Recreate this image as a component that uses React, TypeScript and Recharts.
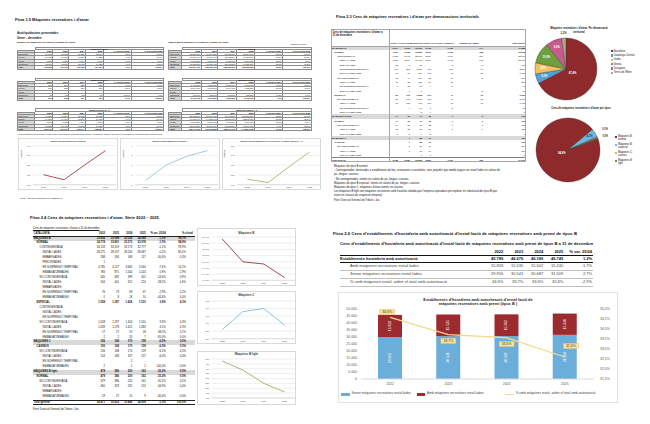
import React from 'react';
import {
  LineChart,
  Line,
  XAxis,
  YAxis,
  CartesianGrid,
  PieChart,
  Pie,
  Cell,
  ComposedChart,
  Bar,
  LabelList,
} from 'recharts';

const FONT = '"Liberation Sans", Arial, Helvetica, sans-serif';

const YEARS = ['2022', '2023', '2024', '2025'];
const PROVINCES = ['Barcelona', 'Girona', 'Lleida', 'Tarragona'];

// Fitxa 1.5 - autoliquidacions: nombre de màquines (per província, 2022-2025)
const nombreB = [
  [96961, 95935, 95020, 98617],
  [13925, 13751, 13590, 14258],
  [7876, 7750, 7614, 7917],
  [13790, 13680, 13496, 14125],
];
const nombreC = [
  [272, 279, 288, 291],
  [276, 280, 284, 290],
  [0, 0, 0, 0],
  [48, 56, 52, 26],
];
// import quota (euros)
const importB = [
  [80581560, 76844590, 87955310, 98734930],
  [11573640, 11036440, 12633800, 14182170],
  [6503850, 6201990, 7098990, 7969030],
  [11575650, 11035430, 12633800, 14182170],
];
const importC = [
  [2470500, 3180200, 3655900, 4075300],
  [2504300, 3195600, 3604100, 4058200],
  [0, 0, 0, 0],
  [437600, 638000, 661500, 365200],
];
const QUOTA_HEAD = ['Categoria', '2022', '2023', '2024', '2025', '% variació 25/24', '% pes s/total 2025'];
const QUOTA_B_TICKS = [100, 110, 120, 130, 140];
const QUOTA_C_TICKS = [5, 6, 7, 8, 9];
const QUOTA_BC_TICKS = [110, 120, 130, 140, 150];

// Fitxa 2.3 - cens per demarcacions
const CENS_COLS = ['LLEIDA', 'TARRAGONA', 'BARCELONA', 'GIRONA', 'CATALUNYA CENTRAL', "TERRES DE L'EBRE", 'Total general'];
const censLabels = [
  'MÀQUINES B', 'NORMAL', 'CONTINGENTADA', 'INSTAL·LADES', 'EMBARGADES', 'EN SUSPENSIÓ TEMPORAL', 'EMMAGATZEMADES',
  'NO CONTINGENTADA', 'INSTAL·LADES', 'EN SUSPENSIÓ TEMPORAL', 'EMMAGATZEMADES',
  'ESPECIAL', 'NO CONTINGENTADA', 'INSTAL·LADES', 'EN SUSPENSIÓ TEMPORAL', 'EMMAGATZEMADES',
  'MÀQUINES B light', 'NORMAL', 'NO CONTINGENTADA', 'INSTAL·LADES', 'EMMAGATZEMADES',
  'MÀQUINES C', 'CASINOS', 'NO CONTINGENTADA', 'INSTAL·LADES', 'EMMAGATZEMADES',
  'Total general',
];
const censLevels = [0, 1, 2, 3, 3, 3, 3, 2, 3, 3, 3, 1, 2, 3, 3, 3, 0, 1, 2, 3, 3, 0, 1, 2, 3, 3, -1];
const censValues = [
  [2024, 2962, 23360, 3718, 1750, 774],
  [1937, 2786, 22352, 3542, 1703, 758],
  [1925, 2742, 22161, 3509, 1684, 756],
  [1629, 2284, 19092, 2964, 1475, 643],
  [31, 6, 75, 0, 3, 2],
  [167, 371, 2370, 402, 160, 90],
  [98, 81, 624, 143, 46, 21],
  [12, 44, 191, 33, 19, 2],
  [11, 23, 155, 24, 11, 0],
  [1, 20, 29, 9, 8, 0],
  [0, 1, 7, 0, 0, 2],
  [87, 176, 1008, 176, 47, 16],
  [87, 176, 1008, 176, 47, 16],
  [87, 172, 995, 170, 45, 16],
  [0, 4, 10, 2, 2, 0],
  [0, 0, 3, 4, 0, 0],
  [14, 26, 77, 32, 7, 6],
  [14, 26, 77, 32, 7, 6],
  [14, 26, 77, 32, 7, 6],
  [13, 25, 73, 29, 7, 6],
  [1, 1, 4, 3, 0, 0],
  [0, 1, 88, 70, 0, 0],
  [0, 1, 88, 70, 0, 0],
  [0, 1, 88, 70, 0, 0],
  [0, 1, 87, 69, 0, 0],
  [0, 0, 1, 1, 0, 0],
  [2038, 2989, 23525, 3820, 1757, 780],
];
const CENS_NOTES = [
  'Màquines de tipus B normal:',
  '- Contingentades: destinades a establiments de bar, restaurants o assimilats, sens perjudici que també puguin ser instal·lades en salons de',
  'joc, bingos i casinos.',
  '- No contingentades: només en salons de joc, bingos i casinos.',
  'Màquines de tipus B especial: només en salons de joc, bingos i casinos.',
  "Màquines de tipus C: màquines d'atzar només en casinos.",
  "Les màquines B light són màquines recreatives amb fiscalitat reduïda que l'empresa operadora pot explotar en substitució de tipus B que",
  'estan en situació de suspensió temporal.',
  'Font: Direcció General de Tributs i Joc',
];
const DEMARCACIONS = ['Barcelona', 'Catalunya Central', 'Lleida', 'Girona', 'Tarragona', "Terres de l'Ebre"];
const DEMARCACIO_COL = [2, 4, 0, 3, 1, 5];
const DEMARCACIO_COLORS = ['#8f2a2c', '#4fa3d6', '#f0c160', '#6f9e3c', '#c65b8e', '#b7a68a'];
const TIPUS = ['Màquines B: normal', 'Màquines B: especial', 'Màquines C: casinos', 'Màquines B: light'];
const TIPUS_ROW = [1, 11, 21, 16];
const TIPUS_COLORS = ['#8f2a2c', '#6db6e4', '#cdb56c', '#7b8b58'];

// Fitxa 2.4 - sèrie 2022-2025
const serieLabels = [
  'MÀQUINES B', 'NORMAL', 'CONTINGENTADA', 'INSTAL·LADES', 'EMBARGADES', 'PRECINTADES', 'EN SUSPENSIÓ TEMPORAL', 'EMMAGATZEMADES',
  'NO CONTINGENTADA', 'INSTAL·LADES', 'EMBARGADES', 'EN SUSPENSIÓ TEMPORAL', 'EMMAGATZEMADES',
  'ESPECIAL', 'CONTINGENTADA', 'INSTAL·LADES', 'EN SUSPENSIÓ TEMPORAL',
  'NO CONTINGENTADA', 'INSTAL·LADES', 'EN SUSPENSIÓ TEMPORAL', 'EMMAGATZEMADES',
  'MÀQUINES C', 'CASINOS', 'NO CONTINGENTADA', 'INSTAL·LADES', 'EN SUSPENSIÓ TEMPORAL', 'EMMAGATZEMADES',
  'MÀQUINES B light', 'NORMAL', 'NO CONTINGENTADA', 'INSTAL·LADES', 'EMBARGADES', 'EMMAGATZEMADES',
  'Total general',
];
const serieLevels = [0, 1, 2, 3, 3, 3, 3, 3, 2, 3, 3, 3, 3, 1, 2, 3, 3, 2, 3, 3, 3, 0, 1, 2, 3, 3, 3, 0, 1, 2, 3, 3, 3, -1];
const serieValues = [
  [35836, 35098, 35026, 34588],
  [34778, 33801, 33572, 33078],
  [34133, 33319, 33173, 32777],
  [28275, 28137, 28156, 28087],
  [288, 184, 168, 117],
  [1, 0, 0, 0],
  [4785, 4127, 3845, 3560],
  [784, 871, 1004, 1013],
  [645, 482, 399, 301],
  [564, 401, 312, 224],
  [0, 0, 0, 0],
  [76, 73, 69, 67],
  [5, 8, 18, 10],
  [1058, 1297, 1454, 1510],
  [0, 0, 0, 0],
  [0, 0, 0, 0],
  [0, 0, 0, 0],
  [1058, 1297, 1454, 1510],
  [1039, 1278, 1421, 1485],
  [17, 17, 13, 18],
  [2, 2, 20, 7],
  [156, 168, 170, 159],
  [156, 168, 170, 159],
  [156, 168, 170, 159],
  [154, 168, 167, 157],
  [0, 0, 2, 0],
  [2, 0, 1, 2],
  [479, 386, 250, 162],
  [479, 386, 250, 162],
  [479, 386, 250, 162],
  [460, 359, 235, 153],
  [0, 0, 0, 0],
  [19, 27, 15, 9],
  [36471, 35652, 35446, 34909],
];
const SERIE_B_TICKS = [34500, 34700, 34900, 35100, 35300, 35500, 35700, 35900];
const SERIE_C_TICKS = [150, 155, 160, 165, 170, 175];
const SERIE_BL_TICKS = [100, 150, 200, 250, 300, 350, 400, 450, 500];

// Fitxa 2.6 - hostaleria
const ambMaquines = [15833, 15535, 15502, 15240];
const senseMaquines = [29956, 30541, 30687, 31509];
const HOST_LEFT_TICKS = [0, 5000, 10000, 15000, 20000, 25000, 30000, 35000, 40000, 45000, 50000];
const HOST_RIGHT_TICKS = [31.5, 32, 32.5, 33, 33.5, 34, 34.5, 35];

const group = (n: number) => {
  const s = String(Math.round(Math.abs(n))).replace(/\B(?=(\d{3})+(?!\d))/g, '.');
  return (n < 0 ? '-' : '') + s;
};
const num = (n: number) => (n ? group(n) : '');
const pct = (v: number) => v.toFixed(1).replace('.', ',') + '%';
const sumCols = (src: number[][]) => YEARS.map((_, i) => src.reduce((a, r) => a + r[i], 0));
const sumRows = (a: number[][], b: number[][]) => a.map((r, k) => r.map((v, i) => v + b[k][i]));

function quotaRows(src: number[][]) {
  const tot = sumCols(src);
  const line = (name: string, v: number[]) => [
    name,
    ...v.map(num),
    v[2] ? pct((v[3] / v[2] - 1) * 100) : '',
    v[3] ? pct((v[3] / tot[3]) * 100) : '',
  ];
  return [...src.map((r, k) => line(PROVINCES[k], r)), line('Total', tot)];
}
const millions = (src: number[][]) => sumCols(src).map((v, i) => ({ year: YEARS[i], v: v / 1e6 }));

function Tx({ x, y, s, b, c, w, a, children }: { x: number; y: number; s: number; b?: boolean; c?: string; w?: number; a?: 'left' | 'center' | 'right'; children: React.ReactNode }) {
  return (
    <div
      style={{
        position: 'absolute',
        left: x,
        top: y - s * 0.6,
        width: w,
        textAlign: a,
        fontSize: s,
        lineHeight: `${s * 1.2}px`,
        fontWeight: b ? 700 : 400,
        color: c || '#111',
        whiteSpace: 'nowrap',
      }}
    >
      {children}
    </div>
  );
}

const lefts = (widths: number[]) => {
  let acc = 0;
  return widths.map((w) => {
    const l = acc;
    acc += w;
    return l;
  });
};
const total = (a: number[]) => a.reduce((s, v) => s + v, 0);

function QuotaBlock({ x, y, widths, title, rows }: { x: number; y: number; widths: number[]; title: string; rows: string[][] }) {
  const rh = 3.29;
  const line = '1px solid #8c8c8c';
  const ls = lefts(widths);
  const W = total(widths);
  const all = [QUOTA_HEAD, ...rows];
  return (
    <div style={{ position: 'absolute', left: x, top: y, width: W, height: rh * 7, fontSize: 2.1, lineHeight: `${rh - 1}px` }}>
      <div style={{ position: 'absolute', left: ls[1], top: 0, width: W - ls[1], height: rh, border: line, boxSizing: 'border-box', textAlign: 'center', fontWeight: 700 }}>
        {title}
      </div>
      {all.map((r, ri) =>
        r.map((v, ci) => (
          <div
            key={ri + '-' + ci}
            style={{
              position: 'absolute',
              left: ls[ci],
              top: rh * (ri + 1),
              width: widths[ci],
              height: rh,
              borderLeft: ci === 0 ? line : undefined,
              borderTop: ri === 0 && ci === 0 ? line : undefined,
              borderRight: line,
              borderBottom: line,
              boxSizing: 'border-box',
              background: ci === 0 ? '#d9d9d9' : '#fff',
              textAlign: ci === 0 ? 'left' : 'right',
              padding: '0 0.6px',
              fontWeight: ri === 0 || r[0] === 'Total' ? 700 : 400,
              overflow: 'hidden',
              whiteSpace: 'nowrap',
            }}
          >
            {v}
          </div>
        )),
      )}
    </div>
  );
}

type Box = { x: number; y: number; w: number; h: number };
type Plot = { x0: number; x1: number; y0: number; y1: number };

function MiniLine({ box, plot, data, color, ticks, fmt, title, titleY, fs, ts, yLabel }: {
  box: Box; plot: Plot; data: { year: string; v: number }[]; color: string; ticks: number[]; fmt: (v: number) => string;
  title: string; titleY: number; fs: number; ts: number; yLabel?: string;
}) {
  const xh = 5;
  const margin = {
    top: plot.y0 - box.y,
    right: box.x + box.w - plot.x1,
    left: 0,
    bottom: Math.max(0, box.y + box.h - plot.y1 - xh),
  };
  const pad = (plot.x1 - plot.x0) / 8;
  const tick = { fontSize: fs, fill: '#595959', fontFamily: FONT };
  return (
    <div style={{ position: 'absolute', left: box.x, top: box.y, width: box.w, height: box.h, background: '#fff' }}>
      <LineChart width={box.w} height={box.h} data={data} margin={margin}>
        <CartesianGrid vertical={false} stroke="#e2e2e2" strokeWidth={0.6} />
        <XAxis dataKey="year" height={xh} interval={0} tickLine={false} axisLine={{ stroke: '#d0d0d0', strokeWidth: 0.6 }} tick={tick} tickSize={1} tickMargin={1} padding={{ left: pad, right: pad }} />
        <YAxis width={plot.x0 - box.x} domain={[ticks[0], ticks[ticks.length - 1]]} ticks={ticks} interval={0} tickLine={false} axisLine={false} tick={tick} tickSize={1} tickMargin={1.5} tickFormatter={fmt} allowDataOverflow />
        <Line type="linear" dataKey="v" stroke={color} strokeWidth={0.9} dot={false} isAnimationActive={false} />
      </LineChart>
      <div style={{ position: 'absolute', inset: 0, border: '1px solid #d9d9d9', pointerEvents: 'none' }} />
      <Tx x={0} w={box.w} a="center" y={titleY - box.y} s={ts} b c="#404040">{title}</Tx>
      {yLabel && (
        <div style={{ position: 'absolute', left: 1.5, top: 12, fontSize: 2.2, fontWeight: 700, color: '#404040', transform: 'rotate(-90deg)', transformOrigin: 'left top', whiteSpace: 'nowrap', lineHeight: '2.6px' }}>
          <div style={{ transform: 'translate(-100%, 0)' }}>{yLabel}</div>
        </div>
      )}
    </div>
  );
}

function Fitxa15() {
  const wl = [18.3, 18.3, 16, 16.7, 18, 27.7, 32.3];
  const wr = [13.4, 20, 16.6, 18.4, 18.3, 28.3, 28.4];
  const tops = [46.5, 77.5, 108.3];
  const titles = ['Màquines tipus B', 'Màquines tipus C', 'Màquines tipus B + C'];
  const nombre = [quotaRows(nombreB), quotaRows(nombreC), quotaRows(sumRows(nombreB, nombreC))];
  const imports = [quotaRows(importB), quotaRows(importC), quotaRows(sumRows(importB, importC))];
  const charts = [
    { title: 'Import quota màquines tipus B', data: millions(importB), ticks: QUOTA_B_TICKS, color: '#a4403f' },
    { title: 'Import quota màquines tipus C', data: millions(importC), ticks: QUOTA_C_TICKS, color: '#96c4e4' },
    { title: "Import quota màquines recreatives i d'atzar tipus B + C", data: millions(sumRows(importB, importC)), ticks: QUOTA_BC_TICKS, color: '#a6b777' },
  ];
  const boxX = [18.3, 120, 221.7];
  return (
    <>
      <Tx x={15} y={20.5} s={4} b>Fitxa 1.5 Màquines recreatives i d'atzar</Tx>
      <Tx x={17} y={33.3} s={2.9} b>Autoliquidacions presentades</Tx>
      <Tx x={17} y={38.3} s={2.9} b>Gener - desembre</Tx>
      <Tx x={17} y={43} s={2.4} b>Nombre de màquines recreatives i d'atzar per tipus</Tx>
      <Tx x={168.3} y={43} s={2.4} b>Import quota màquines recreatives i d'atzar per tipus</Tx>
      <Tx x={290} y={44} s={2}>(Imports en euros)</Tx>
      {tops.map((t, k) => (
        <React.Fragment key={k}>
          <QuotaBlock x={16.7} y={t} widths={wl} title={titles[k]} rows={nombre[k]} />
          <QuotaBlock x={168.3} y={t} widths={wr} title={titles[k]} rows={imports[k]} />
        </React.Fragment>
      ))}
      <Tx x={17} y={134} s={2.1}>
        * Les declaracions presentades poden diferir dels imports comptabilitzats (control i recaptació líquida), atès que els períodes de comptabilització són diferents.
      </Tx>
      {charts.map((c, k) => (
        <MiniLine
          key={k}
          box={{ x: boxX[k], y: 138.3, w: 99.5, h: 51.7 }}
          plot={{ x0: boxX[k] + 15, x1: boxX[k] + 98, y0: 146, y1: 185 }}
          data={c.data}
          color={c.color}
          ticks={c.ticks}
          fmt={(v) => String(v)}
          title={c.title}
          titleY={142.3}
          fs={2.3}
          ts={2.4}
          yLabel="Milions"
        />
      ))}
      <Tx x={20} y={198} s={2.5}>Font: Agència Tributària de Catalunya</Tx>
    </>
  );
}

function CensTable() {
  const x = 331, y = 29, headH = 16.5, rh = 4.3;
  const widths = [58, 10, 12, 12, 9, 22, 30, 42];
  const ls = lefts(widths);
  const W = total(widths);
  const line = '1px solid #a6a6a6';
  return (
    <div style={{ position: 'absolute', left: x, top: y, width: W, height: headH + rh * censLabels.length, fontSize: 2.2 }}>
      <div style={{ position: 'absolute', left: 1.5, top: 1.5, width: 50, fontSize: 2.6, lineHeight: '3.2px', fontWeight: 700, whiteSpace: 'normal' }}>
        Cens de màquines recreatives i d'atzar a 31 de desembre
      </div>
      {CENS_COLS.map((c, i) => (
        <div key={c} style={{ position: 'absolute', left: ls[i + 1], top: headH - 3.2, width: widths[i + 1], textAlign: i === 6 ? 'right' : 'center', fontSize: 2.05, lineHeight: '3px', fontWeight: 700, whiteSpace: 'nowrap', display: 'flex', justifyContent: i === 6 ? 'flex-end' : 'center', paddingRight: i === 6 ? 1 : 0, boxSizing: 'border-box' }}>
          {c}
        </div>
      ))}
      {censLabels.map((lab, r) => {
        const lv = censLevels[r];
        const vals = censValues[r];
        const cells = [...vals, total(vals)];
        return (
          <div
            key={r}
            style={{
              position: 'absolute',
              left: 0,
              top: headH + r * rh,
              width: W,
              height: rh,
              background: lv === 0 ? '#d9d9d9' : '#fff',
              borderTop: lv === -1 ? '1px solid #7f7f7f' : undefined,
              boxSizing: 'border-box',
              fontWeight: lv <= 1 ? 700 : 400,
              lineHeight: `${rh}px`,
            }}
          >
            <div style={{ position: 'absolute', left: lv > 0 ? 1 + lv * 2.6 : 1, top: 0, whiteSpace: 'nowrap' }}>{lab}</div>
            {cells.map((v, i) => (
              <div key={i} style={{ position: 'absolute', left: ls[i + 1], top: 0, width: widths[i + 1] - 1, textAlign: 'right', whiteSpace: 'nowrap' }}>
                {num(v)}
              </div>
            ))}
          </div>
        );
      })}
      <div style={{ position: 'absolute', left: 0, top: headH, width: W, borderTop: line }} />
      <div style={{ position: 'absolute', left: widths[0], top: 0, height: headH + rh * censLabels.length, borderLeft: line }} />
      <div style={{ position: 'absolute', inset: 0, border: line, pointerEvents: 'none' }} />
    </div>
  );
}

const RAD = Math.PI / 180;

function Fitxa23() {
  const totalRow = censValues[censValues.length - 1];
  const pie1 = DEMARCACIONS.map((name, k) => ({ name, value: totalRow[DEMARCACIO_COL[k]] }));
  const pie2 = TIPUS.map((name, k) => ({ name, value: total(censValues[TIPUS_ROW[k]]) }));

  const label1 = (p: any) => {
    const small = p.percent < 0.03;
    const f = p.percent > 0.5 ? 0.25 : small ? 1.14 : 0.74;
    const r = p.outerRadius * f;
    const x = p.cx + r * Math.cos(-p.midAngle * RAD);
    const y = p.cy + r * Math.sin(-p.midAngle * RAD);
    return (
      <text x={x} y={y} textAnchor="middle" dominantBaseline="central" fontSize={2.7} fontWeight={700} fill={small ? '#333' : '#fff'} fontFamily={FONT}>
        {pct(p.percent * 100)}
      </text>
    );
  };
  const label2 = (p: any) => {
    const big = p.percent > 0.5;
    const small = p.percent < 0.02;
    const r = p.outerRadius * (big ? 0.22 : small ? 1.16 : 0.8);
    const x = p.cx + r * Math.cos(-p.midAngle * RAD) + (small ? 3 : 0);
    const y = p.cy + r * Math.sin(-p.midAngle * RAD) + (small ? (p.index === 2 ? -6 : 0) : 0);
    return (
      <text x={x} y={y} textAnchor="middle" dominantBaseline="central" fontSize={2.7} fontWeight={700} fill={big ? '#fff' : '#333'} fontFamily={FONT}>
        {pct(p.percent * 100)}
      </text>
    );
  };

  return (
    <>
      <Tx x={336} y={17.5} s={3.9} b>Fitxa 2.3 Cens de màquines recreatives i d'atzar per demarcacions territorials</Tx>
      <CensTable />
      {CENS_NOTES.map((t, i) => (
        <Tx key={i} x={334} y={166.7 + i * 4.2} s={2.7}>{t}</Tx>
      ))}

      <Tx x={538} w={82} a="center" y={29} s={2.6} b>Màquines recreatives i d'atzar. Per demarcació</Tx>
      <Tx x={538} w={82} a="center" y={32.4} s={2.6} b>territorial</Tx>
      <div style={{ position: 'absolute', left: 526, top: 29 }}>
        <PieChart width={80} height={80} margin={{ top: 0, right: 0, bottom: 0, left: 0 }}>
          <Pie data={pie1} dataKey="value" cx={40} cy={40} outerRadius={31} startAngle={90} endAngle={-270} stroke="#3a3a3a" strokeWidth={0.4} label={label1} labelLine={false} isAnimationActive={false}>
            {pie1.map((d, i) => (
              <Cell key={d.name} fill={DEMARCACIO_COLORS[i]} />
            ))}
          </Pie>
        </PieChart>
      </div>
      {DEMARCACIONS.map((n, i) => (
        <React.Fragment key={n}>
          <div style={{ position: 'absolute', left: 610.5, top: 50 + i * 4.33, width: 2.2, height: 2.2, background: DEMARCACIO_COLORS[i] }} />
          <Tx x={613.5} y={51.1 + i * 4.33} s={2.6}>{n}</Tx>
        </React.Fragment>
      ))}

      <Tx x={540} w={82} a="center" y={108.5} s={2.6} b>Cens de màquines recreatives i d'atzar per tipus</Tx>
      <div style={{ position: 'absolute', left: 527.5, top: 110 }}>
        <PieChart width={80} height={80} margin={{ top: 0, right: 0, bottom: 0, left: 0 }}>
          <Pie data={pie2} dataKey="value" cx={40} cy={40} outerRadius={32} startAngle={21} endAngle={-339} stroke="#3a3a3a" strokeWidth={0.4} label={label2} labelLine={false} isAnimationActive={false}>
            {pie2.map((d, i) => (
              <Cell key={d.name} fill={TIPUS_COLORS[i]} />
            ))}
          </Pie>
        </PieChart>
      </div>
      {TIPUS.map((n, i) => {
        const [a, b] = n.split(': ');
        return (
          <React.Fragment key={n}>
            <div style={{ position: 'absolute', left: 615, top: 135.6 + i * 8.1, width: 2.2, height: 2.2, background: TIPUS_COLORS[i] }} />
            <Tx x={618} y={136.7 + i * 8.1} s={2.6}>{a + ':'}</Tx>
            <Tx x={618} y={139.6 + i * 8.1} s={2.6}>{b}</Tx>
          </React.Fragment>
        );
      })}
    </>
  );
}

function SerieTable() {
  const x = 33, top = 232, headH = 4.5, rh = 4.95;
  const widths = [59, 14, 14, 13.3, 13.4, 20, 28.3];
  const ls = lefts(widths);
  const W = total(widths);
  const tot2025 = serieValues[serieValues.length - 1][3];
  const head = ['CATALUNYA', ...YEARS, '% var. 25/24', '% s/total'];
  return (
    <div style={{ position: 'absolute', left: x, top, width: W, fontSize: 2.7 }}>
      <div style={{ position: 'absolute', left: 0, top: 0, width: W, height: headH, borderBottom: '1px solid #222', boxSizing: 'border-box', fontWeight: 700, lineHeight: `${headH}px` }}>
        {head.map((h, i) => (
          <div key={i} style={{ position: 'absolute', left: ls[i] + (i === 0 ? 0.5 : 0), width: widths[i] - (i === 0 ? 0 : i === 6 ? 2 : 1), textAlign: i === 0 ? 'left' : 'right', whiteSpace: 'nowrap' }}>
            {h}
          </div>
        ))}
      </div>
      {serieLabels.map((lab, r) => {
        const lv = serieLevels[r];
        const v = serieValues[r];
        const cells = [
          ...v.map(num),
          v[2] && v[3] ? pct((v[3] / v[2] - 1) * 100) : '',
          v[3] ? pct((v[3] / tot2025) * 100) : '',
        ];
        return (
          <div
            key={r}
            style={{
              position: 'absolute',
              left: 0,
              top: headH + r * rh,
              width: W,
              height: rh,
              background: lv === 0 ? '#d9d9d9' : '#fff',
              borderTop: lv === -1 ? '1px solid #222' : undefined,
              borderBottom: lv === -1 ? '1px solid #222' : undefined,
              boxSizing: 'border-box',
              fontWeight: lv <= 1 ? 700 : 400,
              lineHeight: `${rh}px`,
            }}
          >
            <div style={{ position: 'absolute', left: lv > 0 ? 0.5 + lv * 3 : 0.5, top: 0, whiteSpace: 'nowrap' }}>{lab}</div>
            {cells.map((c, i) => (
              <div key={i} style={{ position: 'absolute', left: ls[i + 1], top: 0, width: widths[i + 1] - (i === 5 ? 9 : 1), textAlign: 'right', whiteSpace: 'nowrap' }}>
                {c}
              </div>
            ))}
          </div>
        );
      })}
    </div>
  );
}

function Fitxa24() {
  const serie = (row: number) => serieValues[row].map((v, i) => ({ year: YEARS[i], v }));
  const px = { x0: 211.5, x1: 294.7 };
  return (
    <>
      <Tx x={30} y={218.3} s={4.1} b>Fitxa 2.4 Cens de màquines recreatives i d'atzar. Sèrie 2022 – 2025</Tx>
      <div style={{ position: 'absolute', left: 33, top: 227.3, fontSize: 2.6, lineHeight: '3px', textDecoration: 'underline', whiteSpace: 'nowrap' }}>
        Cens de màquines recreatives i d'atzar a 31 de desembre
      </div>
      <SerieTable />
      <MiniLine
        box={{ x: 196.7, y: 227.7, w: 99.3, h: 58.3 }}
        plot={{ ...px, y0: 236.7, y1: 280 }}
        data={serie(0)}
        color="#8e3a3b"
        ticks={SERIE_B_TICKS}
        fmt={group}
        title="Màquines  B"
        titleY={234}
        fs={2.3}
        ts={2.9}
      />
      <MiniLine
        box={{ x: 196.7, y: 291, w: 99.3, h: 53.3 }}
        plot={{ ...px, y0: 301, y1: 338.7 }}
        data={serie(21)}
        color="#7dbbe0"
        ticks={SERIE_C_TICKS}
        fmt={String}
        title="Màquines  C"
        titleY={296}
        fs={2.3}
        ts={2.9}
      />
      <MiniLine
        box={{ x: 196.7, y: 351, w: 99.3, h: 54 }}
        plot={{ ...px, y0: 359, y1: 398 }}
        data={serie(27)}
        color="#9fb067"
        ticks={SERIE_BL_TICKS}
        fmt={String}
        title="Màquines B light"
        titleY={354.3}
        fs={2.3}
        ts={2.9}
      />
      <Tx x={33} y={409.3} s={2.7}>Font: Direcció General de Tributs i Joc</Tx>
    </>
  );
}

function VertLabel(p: any) {
  const cx = p.x + p.width / 2;
  const cy = p.y + p.height / 2;
  return (
    <text x={cx} y={cy} transform={`rotate(-90 ${cx} ${cy})`} textAnchor="middle" dominantBaseline="central" fontSize={3.4} fill="#fff" fontFamily={FONT}>
      {group(p.value)}
    </text>
  );
}

function PctLabel(p: any) {
  const last = p.index === YEARS.length - 1;
  const above = p.index === 0 || last;
  const cx = p.x + (last ? 6 : p.index === 0 ? -3 : 0);
  const cy = p.y + (above ? (last ? -11 : -5.5) : 6.2);
  return (
    <g>
      <rect x={cx - 7.5} y={cy - 2.7} width={15} height={5.4} fill="#fbe39b" stroke="#d6b85c" strokeWidth={0.4} />
      <text x={cx} y={cy} textAnchor="middle" dominantBaseline="central" fontSize={3.5} fill="#404040" fontFamily={FONT}>
        {pct(p.value)}
      </text>
    </g>
  );
}

function Fitxa26() {
  const totals = ambMaquines.map((a, i) => a + senseMaquines[i]);
  const share = ambMaquines.map((a, i) => (a / totals[i]) * 100);
  const data = YEARS.map((year, i) => ({ year, sense: senseMaquines[i], amb: ambMaquines[i], pct: share[i] }));
  const varOf = (v: number[]) => pct((v[3] / v[2] - 1) * 100);
  const rows = [
    { label: 'Establiments hostaleria amb autorització', cells: [...totals.map(group), varOf(totals)] },
    { label: 'Amb màquines recreatives instal·lades', cells: [...ambMaquines.map(group), varOf(ambMaquines)] },
    { label: 'Sense màquines recreatives instal·lades', cells: [...senseMaquines.map(group), varOf(senseMaquines)] },
    { label: '% amb màquines instal. sobre el total amb autorització', cells: [...share.map(pct), varOf(share)] },
  ];
  const colRight = [503.3, 523.3, 543.3, 563.3, 592];
  const rowY = [259, 266.6, 274.3, 282];
  const tick = { fontSize: 3.5, fill: '#595959', fontFamily: FONT };
  const legend = [
    { x: 341, text: 'Sense màquines recreatives instal·lades', color: '#6aaed9', line: false },
    { x: 416.5, text: 'Amb màquines recreatives instal·lades', color: '#9c2a2e', line: false },
    { x: 505, text: '% amb màquines instal. sobre el total amb autorització', color: '#f5d98e', line: true },
  ];
  return (
    <>
      <Tx x={333} y={233.3} s={4.3} b>
        Fitxa 2.6 Cens d'establiments d'hostaleria amb autorització d'instal·lació de màquines recreatives amb premi de tipus B
      </Tx>
      <Tx x={340} y={243.3} s={4.15} b>
        Cens d'establiments d'hostaleria amb autorització d'instal·lació de màquines recreatives amb premi de tipus B a 31 de desembre
      </Tx>
      {[...YEARS, '% var. 25/24'].map((h, i) => (
        <Tx key={h} x={colRight[i] - 30} w={30} a="right" y={252.3} s={4} b>{h}</Tx>
      ))}
      <div style={{ position: 'absolute', left: 340, top: 255.3, width: 253, height: 7.3, borderTop: '1px solid #111', borderBottom: '1px solid #111', boxSizing: 'border-box' }} />
      <div style={{ position: 'absolute', left: 340, top: 270.3, width: 253, borderTop: '1px solid #bfbfbf' }} />
      <div style={{ position: 'absolute', left: 340, top: 278, width: 253, borderTop: '1px solid #bfbfbf' }} />
      <div style={{ position: 'absolute', left: 340, top: 285.8, width: 253, borderTop: '1px solid #bfbfbf' }} />
      {rows.map((r, k) => (
        <React.Fragment key={k}>
          <Tx x={k === 0 ? 340 : 350} y={rowY[k]} s={4} b={k === 0} c={k === 0 ? '#111' : '#404040'}>{r.label}</Tx>
          {r.cells.map((c, i) => (
            <Tx key={i} x={colRight[i] - 30} w={30} a="right" y={rowY[k]} s={4} b={k === 0} c={k === 0 ? '#111' : '#404040'}>{c}</Tx>
          ))}
        </React.Fragment>
      ))}

      <div style={{ position: 'absolute', left: 338, top: 292, width: 280, height: 111, background: '#fff' }}>
        <ComposedChart width={280} height={111} data={data} margin={{ top: 17, right: 0, bottom: 15, left: 0 }}>
          <XAxis dataKey="year" height={9} tickLine={false} axisLine={{ stroke: '#d9d9d9' }} tick={tick} tickSize={2} tickMargin={2} />
          <YAxis yAxisId="l" width={23} domain={[0, 50000]} ticks={HOST_LEFT_TICKS} interval={0} tickLine={false} axisLine={false} tick={tick} tickSize={2} tickMargin={2} tickFormatter={(v: number) => (v ? group(v) : '0')} />
          <YAxis yAxisId="r" orientation="right" width={24} domain={[31.5, 35]} ticks={HOST_RIGHT_TICKS} interval={0} tickLine={false} axisLine={false} tick={tick} tickSize={2} tickMargin={4} tickFormatter={(v: number) => pct(v)} />
          <Bar yAxisId="l" dataKey="sense" stackId="a" fill="#6aaed9" barSize={24} isAnimationActive={false}>
            <LabelList dataKey="sense" content={VertLabel} />
          </Bar>
          <Bar yAxisId="l" dataKey="amb" stackId="a" fill="#9c2a2e" barSize={24} isAnimationActive={false}>
            <LabelList dataKey="amb" content={VertLabel} />
          </Bar>
          <Line yAxisId="r" type="linear" dataKey="pct" stroke="#f5d98e" strokeWidth={1.3} dot={false} isAnimationActive={false}>
            <LabelList dataKey="pct" content={PctLabel} />
          </Line>
        </ComposedChart>
        <div style={{ position: 'absolute', inset: 0, border: '1px solid #e3e3e3', pointerEvents: 'none' }} />
        <Tx x={0} w={280} a="center" y={8} s={3.9} b c="#262626">Establiments d'hostaleria amb autorització d'instal·lació de</Tx>
        <Tx x={0} w={280} a="center" y={12.4} s={3.9} b c="#262626">màquines  recreatives amb premi (tipus B )</Tx>
      </div>
      {legend.map((l) => (
        <React.Fragment key={l.text}>
          <div style={{ position: 'absolute', left: l.x, top: l.line ? 393.8 : 393.2, width: 8.5, height: l.line ? 1.2 : 2.4, background: l.color }} />
          <Tx x={l.x + 10.5} y={394.3} s={3.3} c="#404040">{l.text}</Tx>
        </React.Fragment>
      ))}
    </>
  );
}

export default function App() {
  return (
    <div
      style={{
        position: 'absolute',
        left: 0,
        top: 0,
        width: 650,
        height: 424,
        background: '#fff',
        overflow: 'hidden',
        fontFamily: FONT,
        color: '#111',
      }}
    >
      <Fitxa15 />
      <Fitxa23 />
      <Fitxa24 />
      <Fitxa26 />
    </div>
  );
}
